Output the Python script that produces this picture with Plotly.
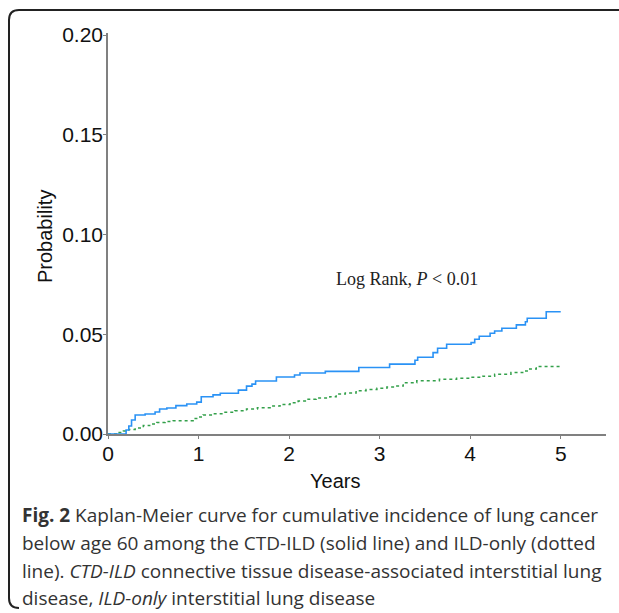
import plotly.graph_objects as go

# ---- data ----
ctd_t = [0, 0.20, 0.23, 0.26, 0.30, 0.41, 0.52, 0.57, 0.65, 0.75, 0.87, 0.98, 1.03, 1.16, 1.24,
         1.44, 1.53, 1.59, 1.63, 1.86, 2.06, 2.12, 2.40, 2.77, 3.11, 3.39, 3.42, 3.59, 3.64, 3.74,
         4.01, 4.05, 4.10, 4.22, 4.27, 4.35, 4.51, 4.61, 4.63, 4.84, 5.0]
ctd_p = [0, 0.002, 0.004, 0.007, 0.0095, 0.010, 0.011, 0.0125, 0.013, 0.0142, 0.015, 0.016, 0.0187,
         0.0196, 0.0204, 0.022, 0.024, 0.025, 0.0266, 0.0286, 0.0296, 0.0306, 0.0314, 0.0333, 0.035,
         0.037, 0.0385, 0.0408, 0.043, 0.045, 0.0458, 0.0475, 0.049, 0.0505, 0.0516, 0.053, 0.0547,
         0.0563, 0.058, 0.0613, 0.0613]

ild_t = [0, 0.10, 0.17, 0.23, 0.30, 0.39, 0.46, 0.54, 0.63, 0.72, 0.94, 1.00, 1.05, 1.15, 1.27,
         1.40, 1.53, 1.65, 1.79, 1.90, 2.01, 2.10, 2.19, 2.30, 2.45, 2.52, 2.62, 2.74, 2.85, 2.97,
         3.08, 3.19, 3.26, 3.41, 3.66, 3.85, 4.0, 4.14, 4.27, 4.45, 4.58, 4.64, 4.73, 5.0]
ild_p = [0, 0.0008, 0.0015, 0.0023, 0.003, 0.0042, 0.005, 0.0058, 0.0063, 0.0067, 0.0078, 0.0085,
         0.0095, 0.0102, 0.0109, 0.0117, 0.0125, 0.0132, 0.014, 0.0148, 0.0157, 0.0165, 0.0174,
         0.018, 0.0187, 0.020, 0.0205, 0.0217, 0.0223, 0.0229, 0.0235, 0.024, 0.0257, 0.0267,
         0.0274, 0.0279, 0.0284, 0.029, 0.030, 0.0308, 0.0316, 0.0326, 0.0338, 0.0338]

x_ticks = [0, 1, 2, 3, 4, 5]
y_ticks = [0.00, 0.05, 0.10, 0.15, 0.20]
y_tick_labels = ["0.00", "0.05", "0.10", "0.15", "0.20"]

caption_lines = [
    "<b>Fig. 2</b> Kaplan-Meier curve for cumulative incidence of lung cancer",
    "below age 60 among the CTD-ILD (solid line) and ILD-only (dotted",
    "line). <i>CTD-ILD</i> connective tissue disease-associated interstitial lung",
    "disease, <i>ILD-only</i> interstitial lung disease",
]

# ---- layout geometry (pixels) ----
W, H = 619, 613
L, R, T, B = 108, 13, 33, 179
pw, ph = W - L - R, H - T - B


def px(x):
    return (x - L) / pw


def py(y):
    return (H - B - y) / ph


fig = go.Figure()
fig.add_trace(go.Scatter(x=ild_t, y=ild_p, mode="lines", line_shape="hv",
                         line=dict(color="#33a04a", width=1.5, dash="dot"),
                         name="ILD-only", showlegend=False))
fig.add_trace(go.Scatter(x=ctd_t, y=ctd_p, mode="lines", line_shape="hv",
                         line=dict(color="#2a92f5", width=1.6),
                         name="CTD-ILD", showlegend=False))

axis_font = dict(family="Liberation Sans, Arial, sans-serif", size=20, color="#111111")
tick_font = dict(family="Liberation Sans, Arial, sans-serif", size=21, color="#111111")

fig.update_xaxes(range=[0, 5.5], tickvals=x_ticks, ticks="outside", ticklen=3,
                 tickcolor="#808080", showline=True, linecolor="#808080", linewidth=1.5,
                 showgrid=False, zeroline=False, tickfont=tick_font, ticklabelstandoff=-3)
fig.update_yaxes(range=[0, 0.201], tickvals=y_ticks, ticktext=y_tick_labels, ticks="outside",
                 ticklen=3, tickcolor="#808080", showline=True, linecolor="#808080",
                 linewidth=1.5, showgrid=False, zeroline=False, tickfont=tick_font,
                 ticklabelstandoff=-4)

annotations = [
    dict(x=px(335), y=py(481), xref="paper", yref="paper", text="Years", showarrow=False,
         font=axis_font, xanchor="center", yanchor="middle"),
    dict(x=px(45), y=py(237), xref="paper", yref="paper", text="Probability", showarrow=False,
         font=axis_font, textangle=-90, xanchor="center", yanchor="middle"),
    dict(x=px(334), y=py(279), xref="paper", yref="paper",
         text="Log Rank, <i>P</i> &lt; 0.01", showarrow=False,
         font=dict(family="Liberation Serif, Times New Roman, serif", size=18, color="#222222"),
         xanchor="left", yanchor="middle"),
]
cap_y = [515, 543, 571, 598]
for line, yy in zip(caption_lines, cap_y):
    annotations.append(dict(x=px(20), y=py(yy), xref="paper", yref="paper", text=line,
                            showarrow=False, xanchor="left", yanchor="middle",
                            font=dict(family="Open Sans, Noto Sans, sans-serif", size=19,
                                      color="#333333")))

# rounded frame (top and left visible)
r = 10
x0, y0, y1, x1 = 9, 10, 608, 640
path = (f"M {px(x1)},{py(y0)} L {px(x0 + r)},{py(y0)} "
        f"Q {px(x0)},{py(y0)} {px(x0)},{py(y0 + r)} "
        f"L {px(x0)},{py(y1 - r)} Q {px(x0)},{py(y1)} {px(x0 + r)},{py(y1)}")

fig.update_layout(
    width=W, height=H,
    margin=dict(l=L, r=R, t=T, b=B),
    paper_bgcolor="white", plot_bgcolor="white",
    annotations=annotations,
    shapes=[dict(type="path", path=path, xref="paper", yref="paper",
                 line=dict(color="#222222", width=2))],
)

fig.write_html("out.html")
